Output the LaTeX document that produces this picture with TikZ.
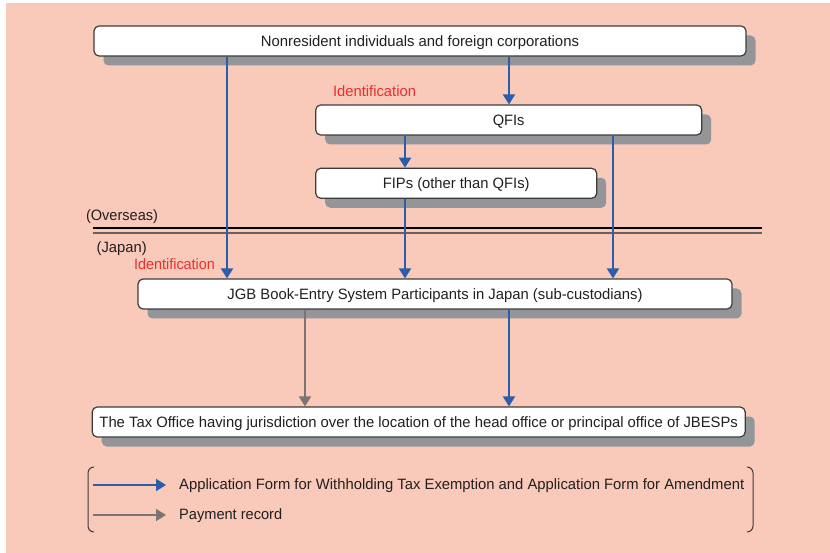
\documentclass[tikz,border=0pt]{standalone}
\usepackage{fontspec}
\setmainfont{Liberation Sans}
\usetikzlibrary{arrows.meta,shadows}
\definecolor{bgpink}{HTML}{F9C9BA}
\definecolor{boxline}{HTML}{3C3C3C}
\definecolor{shadowgray}{HTML}{939598}
\definecolor{txt}{HTML}{231F20}
\definecolor{arrblue}{HTML}{2C5DAA}
\definecolor{arrgray}{HTML}{7B7472}
\definecolor{idred}{HTML}{EE2D2D}
\definecolor{lineb}{HTML}{6F5F5A}
\newcommand\fitw[2]{\resizebox{#1pt}{\height}{#2}}
\begin{document}
\begin{tikzpicture}[x=1pt,y=-1pt,
  stdfont/.style={font=\fontsize{15}{17}\selectfont, text height=10.7pt, text depth=0pt},
  box/.style={stdfont, draw=boxline, line width=1.2pt, fill=white, rounded corners=5pt,
    minimum height=30pt, inner sep=0pt, text=txt,
    drop shadow={shadow xshift=9.5pt, shadow yshift=-9.5pt, fill=shadowgray, opacity=1}},
  lbl/.style={stdfont, inner sep=0pt, text=txt},
  idlbl/.style={stdfont, inner sep=0pt, text=idred},
  barrow/.style={draw=arrblue, line width=2pt, -{Triangle[length=10pt,width=12pt]}},
  garrow/.style={draw=arrgray, line width=2pt, -{Triangle[length=10pt,width=12pt]}},
  bracket/.style={draw=boxline, line width=1pt, rounded corners=6pt}
]
\useasboundingbox (0,0) rectangle (830,553);
\fill[white] (0,0) rectangle (830,553);
\fill[bgpink] (6,3) rectangle (830,553);

% boxes
\node[box, minimum width=652pt] (box1) at (420,41) {\fitw{318}{Nonresident individuals and foreign corporations}};
\node[box, minimum width=386pt] (qfi) at (508.7,120) {\fitw{31.7}{QFIs}};
\node[box, minimum width=281pt] (fip) at (456.2,183.3) {\fitw{146.7}{FIPs (other than QFIs)}};
\node[box, minimum width=594pt] (jgb) at (435,294) {\fitw{415}{JGB Book-Entry System Participants in Japan (sub-custodians)}};
\node[box, minimum width=653pt] (tax) at (418.7,422) {\fitw{638.5}{The Tax Office having jurisdiction over the location of the head office or principal office of JBESPs}};

% labels
\node[idlbl] (id1) at (374.5,90.8) {\fitw{83}{Identification}};
\node[idlbl] (id2) at (174.5,264.5) {\fitw{81}{Identification}};
\node[lbl] (overseas) at (122,215.4) {\fitw{72}{(Overseas)}};
\node[lbl] (japan) at (121.7,246.7) {\fitw{50}{(Japan)}};

% border line
\draw[black, line width=2pt] (93,228) -- (762,228);
\draw[lineb, line width=2pt] (93,233) -- (762,233);

% connectors
\coordinate (xa) at (227,0);
\coordinate (xb) at (509,0);
\coordinate (xc) at (405,0);
\coordinate (xd) at (613,0);
\coordinate (xe) at (305,0);
\draw[barrow] (box1.south -| xa) -- (jgb.north -| xa);
\draw[barrow] (box1.south -| xb) -- (qfi.north -| xb);
\draw[barrow] (qfi.south -| xc) -- (fip.north -| xc);
\draw[barrow] (fip.south -| xc) -- (jgb.north -| xc);
\draw[barrow] (qfi.south -| xd) -- (jgb.north -| xd);
\draw[garrow] (jgb.south -| xe) -- (tax.north -| xe);
\draw[barrow] (jgb.south -| xb) -- (tax.north -| xb);

% legend
\draw[bracket] (94,467) -- (88,467) -- (88,532) -- (94,532);
\draw[bracket] (747,467) -- (753,467) -- (753,532) -- (747,532);
\node[lbl, anchor=west] (leg1) at (179,484) {\fitw{565}{Application Form for Withholding Tax Exemption and Application Form for Amendment}};
\node[lbl, anchor=west] (leg2) at (179,514) {\fitw{103}{Payment record}};
\coordinate (l1s) at (93,485);
\coordinate (l1e) at (166,485);
\coordinate (l2s) at (93,515);
\coordinate (l2e) at (166,515);
\draw[barrow] (l1s) -- (l1e);
\draw[garrow] (l2s) -- (l2e);
\end{tikzpicture}
\end{document}
